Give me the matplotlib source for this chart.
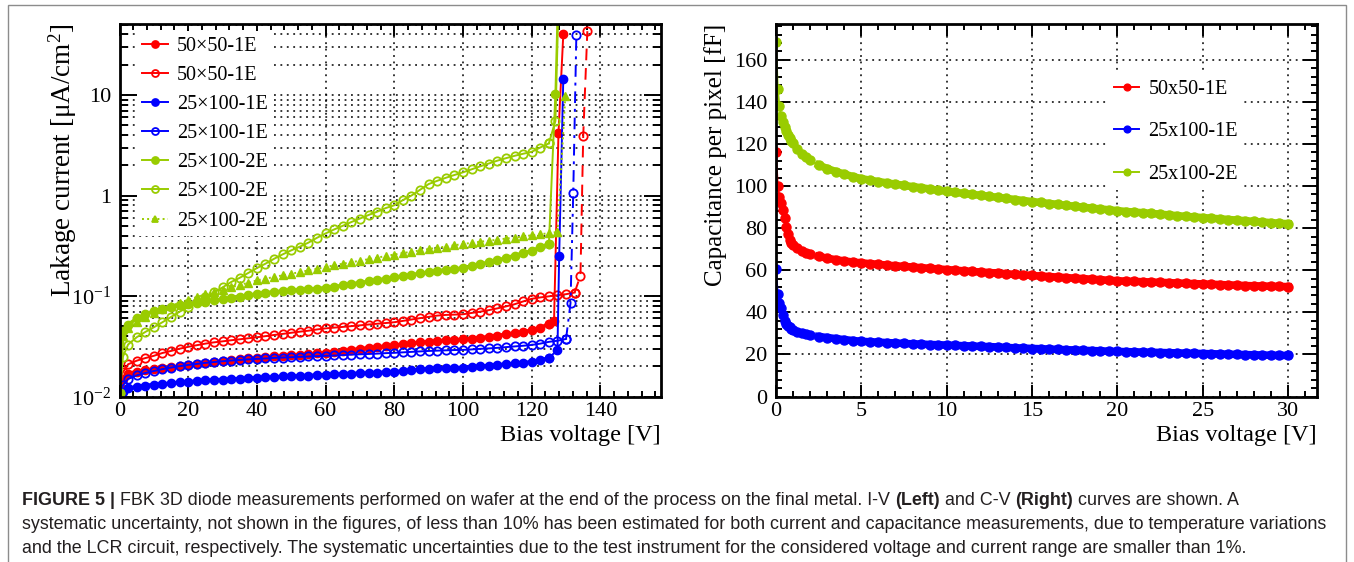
import numpy as np
import matplotlib
matplotlib.use('Agg')
import matplotlib.pyplot as plt
from matplotlib.ticker import MultipleLocator, FixedLocator, FixedFormatter, LogLocator, NullFormatter
from matplotlib.patches import Rectangle

plt.rcParams['font.family'] = ['Liberation Serif', 'DejaVu Serif']
plt.rcParams['mathtext.fontset'] = 'custom'
plt.rcParams['mathtext.rm'] = 'Liberation Serif'
plt.rcParams['mathtext.it'] = 'Liberation Serif:italic'
plt.rcParams['mathtext.bf'] = 'Liberation Serif:bold'
plt.rcParams['mathtext.default'] = 'regular'

RED, BLUE, GREEN = '#ff0000', '#0000ff', '#99cc00'

# ---- I-V data (left) ----
# voltage sweep: 0, 1, then 2.5 V steps up to 125 V
iv_v = [0, 1] + list(np.arange(2.5, 125.1, 2.5))

r1_i = [0.0125, 0.0150, 0.0170, 0.0178, 0.0184, 0.0188, 0.0192, 0.0196, 0.0201, 0.0207,
        0.0212, 0.0217, 0.0222, 0.0227, 0.0231, 0.0236, 0.0240, 0.0244, 0.0248, 0.0251,
        0.0255, 0.0258, 0.0261, 0.0265, 0.0269, 0.0274, 0.0279, 0.0284, 0.0292, 0.0300,
        0.0306, 0.0312, 0.0318, 0.0325, 0.0332, 0.0340, 0.0346, 0.0352, 0.0358, 0.0363,
        0.0367, 0.0372, 0.0378, 0.0386, 0.0395, 0.0405, 0.0418, 0.0430, 0.0442, 0.0458,
        0.0485, 0.0530]
r1_tail_v = [126.5, 127.8, 129.2]
r1_tail_i = [0.056, 4.2, 40.0]

r2_ext_v = [127.5, 130, 132.5]
r2_i = [0.0150, 0.0175, 0.0210, 0.0228, 0.0242, 0.0255, 0.0272, 0.0285, 0.0300, 0.0313,
        0.0325, 0.0337, 0.0347, 0.0355, 0.0364, 0.0372, 0.0381, 0.0390, 0.0400, 0.0411,
        0.0421, 0.0432, 0.0443, 0.0453, 0.0466, 0.0478, 0.0486, 0.0494, 0.0503, 0.0512,
        0.0522, 0.0531, 0.0540, 0.0550, 0.0567, 0.0585, 0.0604, 0.0622, 0.0640, 0.0650,
        0.0655, 0.0660, 0.0680, 0.0700, 0.0725, 0.0755, 0.0790, 0.0830, 0.0885, 0.0940,
        0.0970, 0.0995, 0.1020, 0.1045, 0.1085]
r2_tail_v = [134.2, 135.0, 136.2]
r2_tail_i = [0.16, 3.9, 43.0]

b1_i = [0.0102, 0.0112, 0.0121, 0.0126, 0.0129, 0.0132, 0.0134, 0.0136, 0.0139, 0.0141,
        0.0143, 0.0145, 0.0147, 0.0148, 0.0150, 0.0151, 0.0153, 0.0154, 0.0156, 0.0157,
        0.0159, 0.0160, 0.0161, 0.0162, 0.0164, 0.0165, 0.0167, 0.0168, 0.0170, 0.0171,
        0.0172, 0.0174, 0.0175, 0.0177, 0.0180, 0.0183, 0.0187, 0.0190, 0.0192, 0.0193,
        0.0194, 0.0195, 0.0198, 0.0201, 0.0204, 0.0207, 0.0211, 0.0214, 0.0218, 0.0222,
        0.0230, 0.0244]
b1_tail_v = [127.5, 128.0, 129.2]
b1_tail_i = [0.029, 0.25, 14.4]

b2_ext_v = [127.5, 130]
b2_i = [0.0110, 0.0130, 0.0150, 0.0163, 0.0172, 0.0180, 0.0188, 0.0195, 0.0201, 0.0207,
        0.0212, 0.0217, 0.0221, 0.0225, 0.0229, 0.0232, 0.0235, 0.0238, 0.0240, 0.0243,
        0.0245, 0.0247, 0.0249, 0.0251, 0.0253, 0.0255, 0.0257, 0.0259, 0.0262, 0.0264,
        0.0266, 0.0268, 0.0271, 0.0273, 0.0276, 0.0279, 0.0282, 0.0285, 0.0287, 0.0289,
        0.0291, 0.0292, 0.0295, 0.0299, 0.0302, 0.0306, 0.0311, 0.0316, 0.0321, 0.0327,
        0.0337, 0.0351, 0.0360, 0.0375]
b2_tail_v = [131.3, 132.1, 133.0]
b2_tail_i = [0.085, 1.07, 39.0]

g1_i = [0.011, 0.045, 0.052, 0.060, 0.066, 0.071, 0.075, 0.078, 0.081, 0.083,
        0.086, 0.088, 0.091, 0.093, 0.096, 0.099, 0.102, 0.105, 0.108, 0.110,
        0.112, 0.114, 0.116, 0.117, 0.119, 0.121, 0.124, 0.128, 0.132, 0.136,
        0.140, 0.144, 0.149, 0.154, 0.158, 0.163, 0.168, 0.173, 0.178, 0.182,
        0.186, 0.190, 0.199, 0.208, 0.217, 0.227, 0.240, 0.253, 0.267, 0.283,
        0.305, 0.330]
g1_tail_v = [126.9, 127.6]
g1_tail_i = [10.2, 80.0]

g2_i = [0.011, 0.025, 0.033, 0.039, 0.044, 0.049, 0.055, 0.062, 0.070, 0.078,
        0.087, 0.097, 0.109, 0.122, 0.138, 0.152, 0.170, 0.190, 0.210, 0.235,
        0.260, 0.285, 0.310, 0.340, 0.380, 0.420, 0.460, 0.500, 0.545, 0.590,
        0.640, 0.690, 0.750, 0.800, 0.900, 1.00, 1.14, 1.30, 1.40, 1.50,
        1.60, 1.70, 1.82, 1.95, 2.08, 2.22, 2.35, 2.48, 2.60, 2.72,
        3.00, 3.30]
g2_tail_v = [126.9, 127.8]
g2_tail_i = [5.5, 80.0]

g3_ext_v = [127.5]
g3_i = [0.011, 0.040, 0.048, 0.055, 0.062, 0.068, 0.074, 0.080, 0.086, 0.092,
        0.098, 0.104, 0.110, 0.116, 0.122, 0.129, 0.136, 0.143, 0.149, 0.155,
        0.161, 0.167, 0.173, 0.180, 0.187, 0.195, 0.202, 0.210, 0.217, 0.225,
        0.233, 0.241, 0.250, 0.259, 0.268, 0.276, 0.285, 0.294, 0.302, 0.311,
        0.320, 0.330, 0.338, 0.347, 0.355, 0.364, 0.373, 0.382, 0.392, 0.402,
        0.412, 0.422, 0.435]
g3_tail_v = [129.8]
g3_tail_i = [9.8]

# ---- C-V data (right) ----
cv_v = list(np.arange(0, 1.01, 0.1)) + [1.25, 1.5, 1.75, 2.0] + list(np.arange(2.5, 30.01, 0.5))

c_red = [116, 100, 95, 92, 88.5, 85, 80.5, 77, 74.5, 73, 72,
         70.5, 69.3, 68.4, 67.7,
         66.6, 65.7, 65.0, 64.4, 63.9, 63.5, 63.1, 62.8, 62.4, 62.1, 61.8, 61.5, 61.2, 60.9,
         60.6, 60.3, 60.0, 59.7, 59.4, 59.1, 58.9, 58.6, 58.3, 58.0, 57.8, 57.5, 57.2, 57.0,
         56.7, 56.5, 56.2, 56.0, 55.7, 55.5, 55.2, 55.0, 54.8, 54.7, 54.5, 54.4, 54.2, 54.1,
         53.9, 53.8, 53.6, 53.5, 53.3, 53.2, 53.0, 52.9, 52.7, 52.6, 52.5, 52.4, 52.3, 52.2]
c_blue = [60.8, 48.5, 44.5, 42, 38.5, 36, 34.5, 33.5, 32.8, 32.0, 31.5,
          30.6, 30.0, 29.5, 29.1,
          28.5, 28.0, 27.5, 27.0, 26.6, 26.2, 26.0, 25.8, 25.6, 25.4, 25.2, 25.0, 24.9, 24.7,
          24.6, 24.4, 24.3, 24.1, 24.0, 23.8, 23.7, 23.5, 23.3, 23.1, 23.0, 22.8, 22.7, 22.5,
          22.4, 22.2, 22.1, 21.9, 21.8, 21.7, 21.5, 21.4, 21.3, 21.2, 21.1, 21.0, 20.9, 20.8,
          20.7, 20.6, 20.5, 20.4, 20.3, 20.2, 20.1, 20.0, 19.9, 19.8, 19.7, 19.6, 19.55, 19.5]
c_green = [168.6, 146, 138, 133.5, 130.5, 128, 126, 124.3, 122.8, 121.5, 120.3,
           117.5, 115.3, 113.6, 112.2,
           110.0, 108.3, 106.9, 105.7, 104.5, 103.5, 102.8, 102.1, 101.5, 100.9, 100.3, 99.7,
           99.2, 98.6, 98.0, 97.5, 97.0, 96.5, 96.0, 95.6, 95.1, 94.6, 94.1, 93.6, 93.1, 92.6,
           92.2, 91.7, 91.3, 90.8, 90.4, 89.9, 89.5, 89.1, 88.7, 88.3, 87.9, 87.6, 87.3, 87.0,
           86.6, 86.3, 85.9, 85.6, 85.3, 85.0, 84.7, 84.4, 84.1, 83.8, 83.5, 83.2, 82.9, 82.6,
           82.3, 82.1]

W, H = 1354, 562
fig = plt.figure(figsize=(W / 100, H / 100), dpi=100)

# outer frame of the figure panel
fig.add_artist(Rectangle((8 / W, -0.1), (1346 - 8) / W, 1.1 - 5 / H, transform=fig.transFigure,
                         fill=False, ec='#8c8c8c', lw=1.0))

grid_kw = dict(color='black', linestyle=(0, (1.2, 3.0)), linewidth=1.1)


def style_axes(ax, ymaj, ymin, xmaj=8.5, xmin=4.0):
    for s in ax.spines.values():
        s.set_linewidth(2.0)
    ax.tick_params(which='both', direction='in', top=True, right=True, width=1.4,
                   labelsize=16)
    ax.tick_params(axis='x', which='major', length=xmaj, pad=4)
    ax.tick_params(axis='x', which='minor', length=xmin)
    ax.tick_params(axis='y', which='major', length=ymaj, pad=6)
    ax.tick_params(axis='y', which='minor', length=ymin)


# ================= left: I-V =================
ax1 = fig.add_axes([119.5 / W, 1 - 396.7 / H, 541 / W, 372.7 / H])
ax1.set_yscale('log')
ax1.set_xlim(0, 157.5)
ax1.set_ylim(0.01, 50.7)

band = dict(lw=1.4, ms=6)
full = dict(lw=2.6, ms=6)
opn = dict(mfc='none', mew=1.3)
h1, = ax1.plot(iv_v, r1_i, '-', color=RED, marker='o', label='50×50-1E', **full)
ax1.plot([iv_v[-1]] + r1_tail_v, [r1_i[-1]] + r1_tail_i, '-', color=RED, marker='o', **band)

v2 = iv_v + r2_ext_v
h2, = ax1.plot(v2, r2_i, '-', color=RED, marker='o', label='50×50-1E', **opn, **band)
ax1.plot([v2[-1]] + r2_tail_v, [r2_i[-1]] + r2_tail_i, linestyle=(0, (6, 4)), color=RED,
         marker='o', **opn, **band)

h3, = ax1.plot(iv_v, b1_i, '-', color=BLUE, marker='o', label='25×100-1E', **full)
ax1.plot([iv_v[-1]] + b1_tail_v, [b1_i[-1]] + b1_tail_i, '-', color=BLUE, marker='o', **band)

v4 = iv_v + b2_ext_v
h4, = ax1.plot(v4, b2_i, '-', color=BLUE, marker='o', label='25×100-1E', **opn, **band)
ax1.plot([v4[-1]] + b2_tail_v, [b2_i[-1]] + b2_tail_i, linestyle=(0, (6, 3, 1.5, 3)),
         color=BLUE, marker='o', **opn, **band)

h5, = ax1.plot(iv_v, g1_i, '-', color=GREEN, marker='o', label='25×100-2E', **full)
ax1.plot([iv_v[-1]] + g1_tail_v, [g1_i[-1]] + g1_tail_i, '-', color=GREEN, marker='o', **band)

h6, = ax1.plot(iv_v, g2_i, '-', color=GREEN, marker='o', label='25×100-2E', **opn, **band)
ax1.plot([iv_v[-1]] + g2_tail_v, [g2_i[-1]] + g2_tail_i, '-', color=GREEN, marker='o',
         **opn, **band)

v7 = iv_v + g3_ext_v
h7, = ax1.plot(v7, g3_i, ':', color=GREEN, marker='^', label='25×100-2E', **band)
ax1.plot([v7[-1]] + g3_tail_v, [g3_i[-1]] + g3_tail_i, ':', color=GREEN, marker='^', **band)

ax1.xaxis.set_major_locator(MultipleLocator(20))
ax1.xaxis.set_minor_locator(MultipleLocator(4))
ax1.yaxis.set_major_locator(FixedLocator([0.01, 0.1, 1, 10]))
ax1.yaxis.set_major_formatter(FixedFormatter(['$10^{-2}$', '$10^{-1}$', '1', '10']))
ax1.yaxis.set_minor_locator(LogLocator(base=10, subs=np.arange(2, 10), numticks=20))
ax1.yaxis.set_minor_formatter(NullFormatter())
ax1.grid(which='major', axis='x', **grid_kw)
ax1.grid(which='both', axis='y', **grid_kw)
style_axes(ax1, ymaj=12, ymin=6)

ax1.set_xlabel('Bias voltage [V]', fontsize=17.5, loc='right', labelpad=3)
ax1.set_ylabel('Lakage current [μA/cm$^2$]', fontsize=19.5, loc='top', labelpad=-6)

# legend uses thin-line copies so the handles look like the reference
leg_handles = []
for h in [h1, h2, h3, h4, h5, h6, h7]:
    lh, = ax1.plot([], [], color=h.get_color(), linestyle=h.get_linestyle(), lw=1.4,
                   marker=h.get_marker(), ms=5, mfc=h.get_markerfacecolor(), mew=1.3,
                   label=h.get_label())
    leg_handles.append(lh)
leg1 = ax1.legend(handles=leg_handles, loc='upper left',
                  bbox_to_anchor=(0.032, 0.98), fontsize=14.5, frameon=True,
                  fancybox=False, edgecolor='none', facecolor='white', framealpha=1,
                  handlelength=1.3, handletextpad=0.45, labelspacing=0.5,
                  borderpad=0.25, borderaxespad=0)
leg1.set_zorder(10)

# ================= right: C-V =================
ax2 = fig.add_axes([776 / W, 1 - 396.5 / H, 541 / W, 372.5 / H])
ax2.set_xlim(0, 31.7)
ax2.set_ylim(0, 177)

for vals, col in [(c_red, RED), (c_blue, BLUE), (c_green, GREEN)]:
    # thick underlay so the densely sampled points read as a continuous band
    ax2.plot(cv_v[15:], vals[15:], '-', color=col, lw=5.5)
cv = dict(lw=1.4, ms=6.5, marker='o')
ax2.plot(cv_v, c_red, '-', color=RED, label='50x50-1E', **cv)
ax2.plot(cv_v, c_blue, '-', color=BLUE, label='25x100-1E', **cv)
ax2.plot(cv_v, c_green, '-', color=GREEN, label='25x100-2E', **cv)

ax2.xaxis.set_major_locator(MultipleLocator(5))
ax2.xaxis.set_minor_locator(MultipleLocator(1))
ax2.yaxis.set_major_locator(MultipleLocator(20))
ax2.yaxis.set_minor_locator(MultipleLocator(4))
ax2.grid(which='major', **grid_kw)
style_axes(ax2, ymaj=10, ymin=4.5)

ax2.set_xlabel('Bias voltage [V]', fontsize=17.5, loc='right', labelpad=3)
ax2.set_ylabel('Capacitance per pixel [fF]', fontsize=18, loc='top', labelpad=5)

leg2 = ax2.legend(loc='upper left', bbox_to_anchor=(0.614, 0.866), fontsize=14.5,
                  frameon=True, fancybox=False, edgecolor='none', facecolor='white',
                  framealpha=1, handlelength=1.25, handletextpad=0.45, labelspacing=1.15,
                  borderpad=0.3, borderaxespad=0, markerscale=0.75)
leg2.set_zorder(10)

# ================= caption =================
cap_font = ['Liberation Sans', 'DejaVu Sans']
cap_color = '#231f20'
line1 = [('FIGURE 5 |', True),
         (' FBK 3D diode measurements performed on wafer at the end of the process on the final metal. I-V ', False),
         ('(Left)', True), (' and C-V ', False), ('(Right)', True), (' curves are shown. A', False)]
line2 = ('systematic uncertainty, not shown in the figures, of less than 10% has been estimated '
         'for both current and capacitance measurements, due to temperature variations')
line3 = ('and the LCR circuit, respectively. The systematic uncertainties due to the test '
         'instrument for the considered voltage and current range are smaller than 1%.')

renderer = fig.canvas.get_renderer()
probe = fig.text(0, 0, line2, fontsize=12, family=cap_font)
cap_size = 12 * 1308 / probe.get_window_extent(renderer).width
probe.remove()


def caption_line(y_px, runs):
    x = 22 / W
    for s, bold in runs:
        t = fig.text(x, 1 - y_px / H, s, fontsize=cap_size, family=cap_font, color=cap_color,
                     fontweight='bold' if bold else 'normal', va='baseline', ha='left')
        x += t.get_window_extent(renderer).width / W


caption_line(505, line1)
caption_line(529, [(line2, False)])
caption_line(553, [(line3, False)])

fig.savefig('out.png', dpi=100)
